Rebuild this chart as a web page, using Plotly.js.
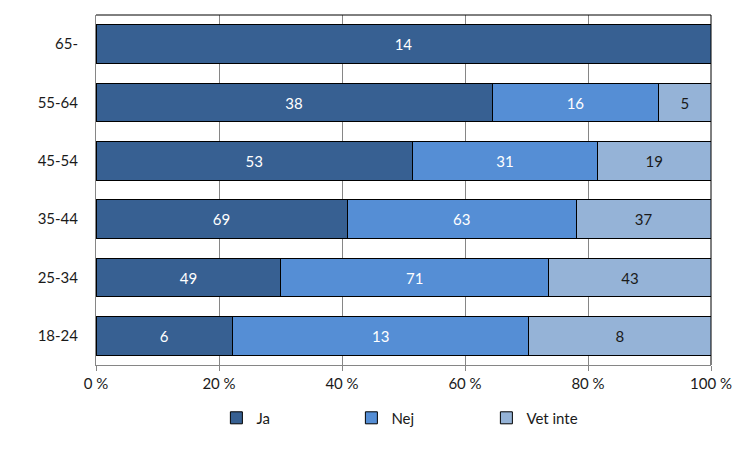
<!DOCTYPE html>
<html><head><meta charset="utf-8">
<script src="https://cdn.plot.ly/plotly-3.0.1.min.js"></script>
<style>html,body{margin:0;padding:0;background:#fff;}#chart{width:750px;height:450px;}</style>
</head><body><div id="chart"></div>
<script>
const categories = ['18-24', '25-34', '35-44', '45-54', '55-64', '65-'];
const ja = [6, 49, 69, 53, 38, 14];
const nej = [13, 71, 63, 31, 16, 0];
const vetInte = [8, 43, 37, 19, 5, 0];
const tickVals = [0, 20, 40, 60, 80, 100];
const tickLabels = ['0 %', '20 %', '40 %', '60 %', '80 %', '100 %'];

const FONT = 'Lato, "Noto Sans", sans-serif';
function trace(name, vals, color, txtColor) {
  return {
    type: 'bar', orientation: 'h', name: name,
    y: categories, x: vals,
    text: vals.map(v => v === 0 ? '' : String(v)),
    textposition: 'inside', insidetextanchor: 'middle', textangle: 0,
    texttemplate: '%{text}',
    textfont: {family: FONT, size: 15, color: txtColor},
    marker: {color: color, line: {color: '#000', width: 1}},
    hoverinfo: 'none'
  };
}
const data = [
  trace('Ja', ja, '#376092', '#ffffff'),
  trace('Nej', nej, '#558ED5', '#ffffff'),
  trace('Vet inte', vetInte, '#95B3D7', '#1a1a1a')
];
const layout = {
  width: 750, height: 450,
  margin: {l: 96, r: 39, t: 15, b: 85, autoexpand: false},
  barmode: 'stack', barnorm: 'percent', bargap: 0.34,
  paper_bgcolor: '#fff', plot_bgcolor: '#fff',
  font: {family: FONT, size: 14, color: '#1a1a1a'},
  xaxis: {
    range: [0, 100], tickvals: tickVals, ticktext: tickLabels,
    showgrid: true, gridcolor: '#868686', gridwidth: 1,
    showline: true, linecolor: '#868686', linewidth: 1,
    ticks: 'outside', ticklen: 5, tickcolor: '#868686',
    zeroline: false, fixedrange: true,
    tickfont: {family: FONT, size: 15, color: '#1a1a1a'}
  },
  yaxis: {
    showline: true, linecolor: '#868686', linewidth: 1,
    ticks: '', ticklabelstandoff: 14,
    tickfont: {family: FONT, size: 15, color: '#1a1a1a'},
    fixedrange: true
  },
  shapes: [
    {type: 'line', xref: 'paper', yref: 'paper', x0: 0, x1: 1, y0: 1, y1: 1, line: {color: '#000', width: 1}},
    {type: 'line', xref: 'paper', yref: 'paper', x0: 1, x1: 1, y0: 0, y1: 1, line: {color: '#000', width: 1}}
  ],
  showlegend: true,
  legend: {
    orientation: 'h', x: 0.525, xanchor: 'center', yref: 'container', y: 0.071, yanchor: 'middle',
    traceorder: 'normal', entrywidth: 90, entrywidthmode: 'pixels',
    font: {family: FONT, size: 15, color: '#1a1a1a'}, itemwidth: 30
  }
};
Plotly.newPlot('chart', data, layout, {displayModeBar: false, staticPlot: true});
</script></body></html>
